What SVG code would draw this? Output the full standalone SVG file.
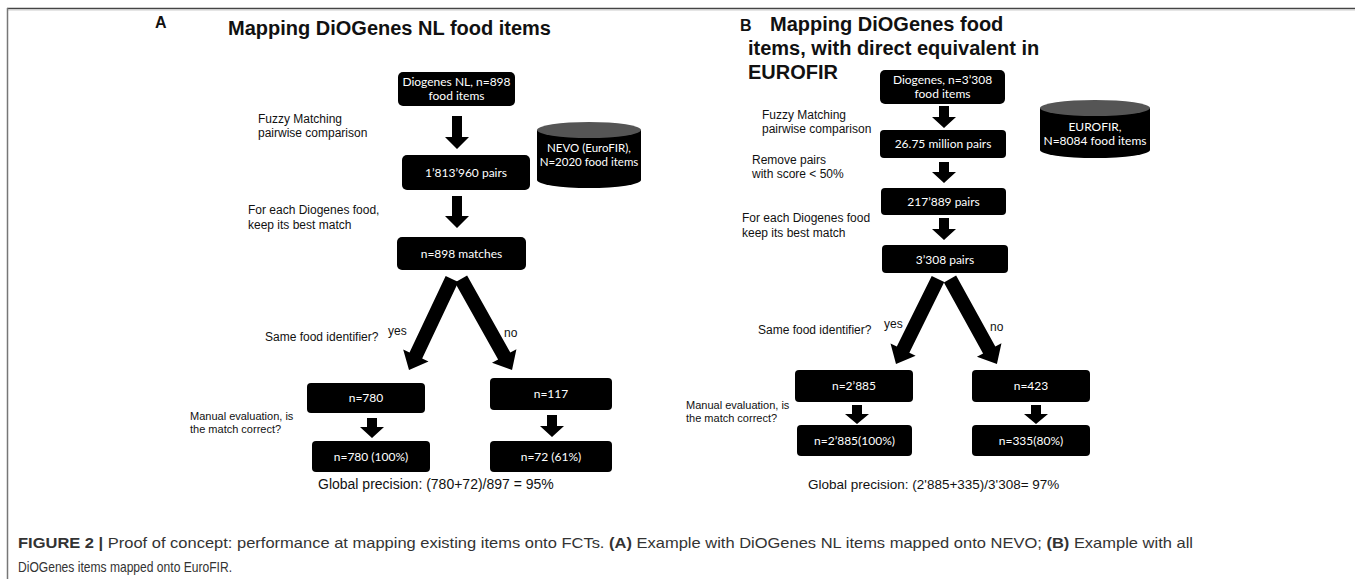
<svg xmlns="http://www.w3.org/2000/svg" width="1355" height="579" viewBox="0 0 1355 579">
<style>
.box{fill:#000}
.bt{font-family:Lato,"Open Sans","Liberation Sans",sans-serif;font-size:12px;fill:#fff;text-anchor:middle}
.lbl{font-family:"Liberation Sans",Arial,sans-serif;font-size:12px;fill:#111}
.title{font-family:"Liberation Sans",Arial,sans-serif;font-size:20px;font-weight:bold;fill:#111}
.pl{font-family:"Liberation Sans",Arial,sans-serif;font-size:16px;font-weight:bold;fill:#111}
.cap{font-family:"Liberation Sans",Arial,sans-serif;font-size:15px;fill:#333}
.arr{fill:#000}
</style>
<rect width="1355" height="579" fill="#fff"/>
<line x1="7" y1="8.5" x2="1355" y2="8.5" stroke="#444" stroke-width="1.5"/>
<line x1="7" y1="10" x2="1355" y2="10" stroke="#ccc" stroke-width="1"/>
<line x1="7.5" y1="8" x2="7.5" y2="579" stroke="#777" stroke-width="1.5"/>

<!-- Panel A -->
<text class="pl" x="155" y="28">A</text>
<text class="title" x="228" y="35">Mapping DiOGenes NL food items</text>

<g id="a_src"><rect class="box" x="398" y="72" width="117" height="34" rx="5"/><text class="bt" x="456.5" y="86">Diogenes NL, n=898</text><text class="bt" x="456.5" y="100">food items</text></g>
<g id="a_nevo"><path d="M537,130 V180 A52,8 0 0 0 641,180 V130 Z" fill="#000"/><ellipse cx="589" cy="130" rx="52" ry="8" fill="#555"/><text class="bt" x="589" y="152" style="font-size:11.5px">NEVO (EuroFIR),</text><text class="bt" x="589" y="166" style="font-size:11.5px">N=2020 food items</text></g>
<g id="a_pairs"><rect class="box" x="402" y="155" width="128" height="35" rx="5"/><text class="bt" x="466" y="177">1’813’960 pairs</text></g>
<g id="a_matches"><rect class="box" x="397" y="237" width="129" height="33" rx="5"/><text class="bt" x="461.5" y="258">n=898 matches</text></g>
<g id="a_780"><rect class="box" x="307" y="383" width="118" height="30" rx="4"/><text class="bt" x="366" y="402">n=780</text></g>
<g id="a_117"><rect class="box" x="490" y="378" width="122" height="32" rx="4"/><text class="bt" x="551" y="398">n=117</text></g>
<g id="a_780r"><rect class="box" x="312" y="441" width="118" height="31" rx="4"/><text class="bt" x="371" y="461">n=780 (100%)</text></g>
<g id="a_72"><rect class="box" x="490" y="441" width="122" height="31" rx="4"/><text class="bt" x="551" y="461">n=72 (61%)</text></g>

<g id="a_labels">
<text class="lbl" x="258" y="123">Fuzzy Matching</text>
<text class="lbl" x="258" y="137">pairwise comparison</text>
<text class="lbl" x="248" y="214">For each Diogenes food,</text>
<text class="lbl" x="248" y="229">keep its best match</text>
<text class="lbl" x="265" y="341">Same food identifier?</text>
<text class="lbl" x="388" y="335">yes</text>
<text class="lbl" x="504" y="337">no</text>
<text class="lbl" x="190" y="420" style="font-size:11px">Manual evaluation, is</text>
<text class="lbl" x="190" y="433" style="font-size:11px">the match correct?</text>
<text class="lbl" x="318" y="489" style="font-size:14px">Global precision: (780+72)/897 = 95%</text>
</g>

<g id="a_connectors" class="arr">
<path d="M452,116 H462 V137 H469 L457,149 L445,137 H452 Z"/>
<path d="M452,196 H462 V216 H469 L457,228 L445,216 H452 Z"/>
<path d="M0,-7 H84.6 V-14 L100.6,0 L84.6,14 V7 H0 Z" transform="translate(452,279) rotate(115.3)"/>
<path d="M0,-7 H88.3 V-14 L104.3,0 L88.3,14 V7 H0 Z" transform="translate(461,279) rotate(60.7)"/>
<path d="M367,418 H377 V427 H384 L372,438 L360,427 H367 Z"/>
<path d="M547,415 H557 V426 H564 L552,437 L540,426 H547 Z"/>
</g>

<!-- Panel B -->
<text class="pl" x="740" y="31">B</text>
<text class="title" x="770" y="31">Mapping DiOGenes food</text>
<text class="title" x="748" y="55">items, with direct equivalent in</text>
<text class="title" x="748" y="79">EUROFIR</text>

<g id="b_src"><rect class="box" x="880" y="70" width="125" height="34" rx="5"/><text class="bt" x="942.5" y="84">Diogenes, n=3’308</text><text class="bt" x="942.5" y="98">food items</text></g>
<g id="b_euro"><path d="M1040,108 V150 A55,8 0 0 0 1150,150 V108 Z" fill="#000"/><ellipse cx="1095" cy="108" rx="55" ry="8" fill="#555"/><text class="bt" x="1095" y="131">EUROFIR,</text><text class="bt" x="1095" y="145">N=8084 food items</text></g>
<g id="b_mill"><rect class="box" x="880" y="130" width="126" height="28" rx="4"/><text class="bt" x="943" y="148">26.75 million pairs</text></g>
<g id="b_217"><rect class="box" x="881" y="188" width="125" height="27" rx="4"/><text class="bt" x="943.5" y="206">217’889 pairs</text></g>
<g id="b_3308"><rect class="box" x="882" y="245" width="126" height="28" rx="4"/><text class="bt" x="945" y="264">3’308 pairs</text></g>
<g id="b_2885"><rect class="box" x="795" y="370" width="118" height="32" rx="4"/><text class="bt" x="854" y="390">n=2’885</text></g>
<g id="b_423"><rect class="box" x="972" y="370" width="118" height="32" rx="4"/><text class="bt" x="1031" y="390">n=423</text></g>
<g id="b_2885r"><rect class="box" x="797" y="425" width="115" height="31" rx="4"/><text class="bt" x="854.5" y="445">n=2’885(100%)</text></g>
<g id="b_335"><rect class="box" x="972" y="425" width="118" height="31" rx="4"/><text class="bt" x="1031" y="445">n=335(80%)</text></g>

<g id="b_labels">
<text class="lbl" x="762" y="119">Fuzzy Matching</text>
<text class="lbl" x="762" y="133">pairwise comparison</text>
<text class="lbl" x="752" y="164">Remove pairs</text>
<text class="lbl" x="752" y="178">with score &lt; 50%</text>
<text class="lbl" x="742" y="222">For each Diogenes food</text>
<text class="lbl" x="742" y="237">keep its best match</text>
<text class="lbl" x="758" y="334">Same food identifier?</text>
<text class="lbl" x="884" y="328">yes</text>
<text class="lbl" x="990" y="331">no</text>
<text class="lbl" x="686" y="409" style="font-size:11px">Manual evaluation, is</text>
<text class="lbl" x="686" y="422" style="font-size:11px">the match correct?</text>
<text class="lbl" x="808" y="489" style="font-size:13.5px">Global precision: (2'885+335)/3'308= 97%</text>
</g>

<g id="b_connectors" class="arr">
<path d="M939,106 H949 V117 H956 L944,128 L932,117 H939 Z"/>
<path d="M939,162 H949 V172 H956 L944,183 L932,172 H939 Z"/>
<path d="M939,218 H949 V229 H956 L944,240 L932,229 H939 Z"/>
<path d="M0,-7 H78.8 V-14 L94.8,0 L78.8,14 V7 H0 Z" transform="translate(938,279) rotate(116.3)"/>
<path d="M0,-7 H81.1 V-14 L97.1,0 L81.1,14 V7 H0 Z" transform="translate(950,279) rotate(61.1)"/>
<path d="M852,405 H862 V414 H869 L857,424 L845,414 H852 Z"/>
<path d="M1031,405 H1041 V414 H1048 L1036,424 L1024,414 H1031 Z"/>
</g>

<!-- Caption -->
<text class="cap" x="18" y="548" textLength="1175" lengthAdjust="spacingAndGlyphs"><tspan font-weight="bold">FIGURE 2 |</tspan> Proof of concept: performance at mapping existing items onto FCTs. <tspan font-weight="bold">(A)</tspan> Example with DiOGenes NL items mapped onto NEVO; <tspan font-weight="bold">(B)</tspan> Example with all</text>
<text class="cap" x="18" y="572" textLength="214" lengthAdjust="spacingAndGlyphs">DiOGenes items mapped onto EuroFIR.</text>
</svg>
